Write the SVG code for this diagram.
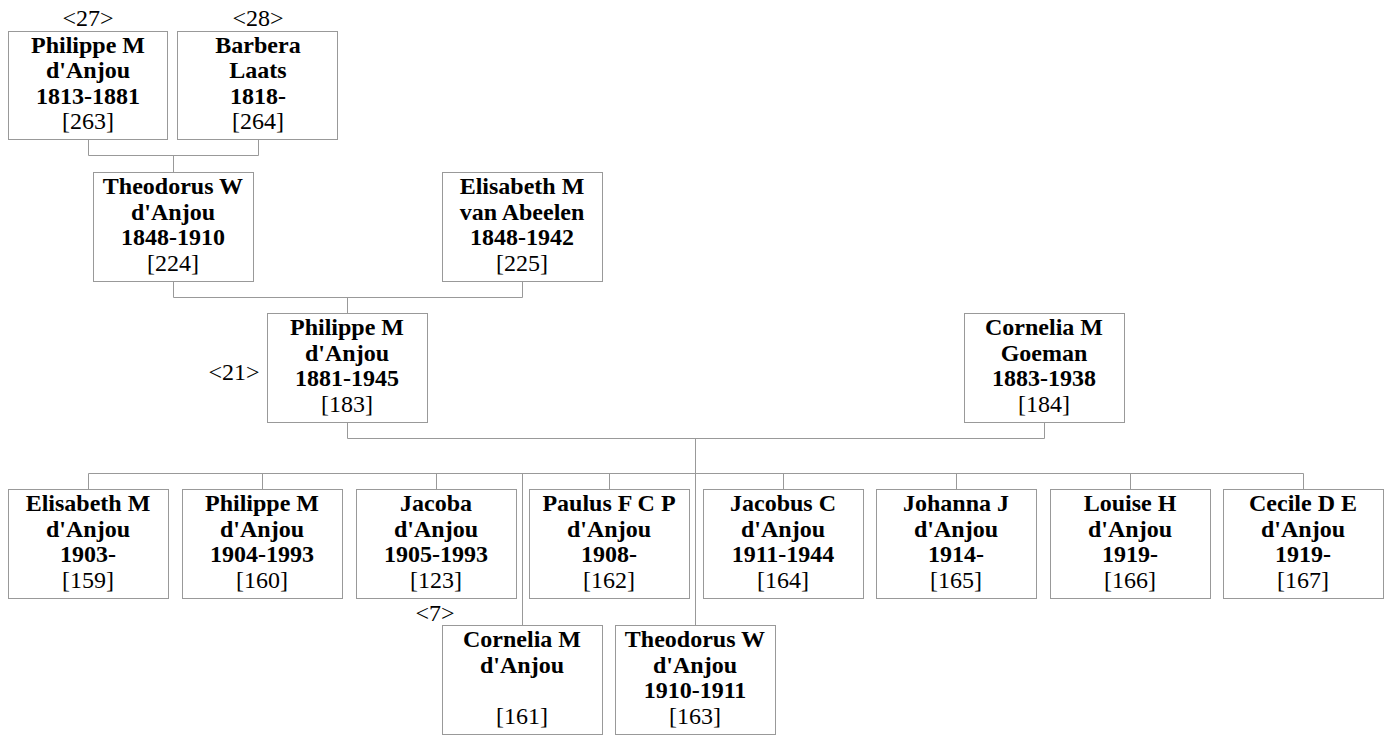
<svg xmlns="http://www.w3.org/2000/svg" width="1389" height="735" viewBox="0 0 1389 735">
<style>
rect.box{fill:#fff;stroke:#999;stroke-width:1}
.conn path{fill:none;stroke:#999;stroke-width:1}
text{font-family:"Liberation Serif","Times New Roman",serif;font-size:24px;fill:#000;text-anchor:middle}
.b{font-weight:bold}
</style>
<rect width="1389" height="735" fill="#fff"/>
<g class="conn">
<path d="M88.5 139.5V155.5H258.5V139.5M173.5 155.5V172"/>
<path d="M173.5 282V297.5H522.5V282M347.5 297.5V313"/>
<path d="M347.5 423V438.5H1044.5V423M695.5 438.5V625"/>
<path d="M88.5 489V473.5H1303.5V489M262.5 473.5V489M436.5 473.5V489M609.5 473.5V489M783.5 473.5V489M956.5 473.5V489M1130.5 473.5V489M522.5 473.5V625"/>
</g>
<text x="88" y="26">&lt;27&gt;</text>
<text x="258" y="26">&lt;28&gt;</text>
<text x="234" y="380">&lt;21&gt;</text>
<text x="435" y="621">&lt;7&gt;</text>
<g id="n263"><rect class="box" x="8.5" y="31.5" width="159" height="108"/><text class="b" x="88" y="52.5">Philippe M</text><text class="b" x="88" y="78">d'Anjou</text><text class="b" x="88" y="103.5">1813-1881</text><text x="88" y="129">[263]</text></g>
<g id="n264"><rect class="box" x="177.5" y="31.5" width="160" height="108"/><text class="b" x="258" y="52.5">Barbera</text><text class="b" x="258" y="78">Laats</text><text class="b" x="258" y="103.5">1818-</text><text x="258" y="129">[264]</text></g>
<g id="n224"><rect class="box" x="93.5" y="172.5" width="160" height="109"/><text class="b" x="173" y="194">Theodorus W</text><text class="b" x="173" y="219.5">d'Anjou</text><text class="b" x="173" y="245">1848-1910</text><text x="173" y="270.5">[224]</text></g>
<g id="n225"><rect class="box" x="442.5" y="172.5" width="160" height="109"/><text class="b" x="522" y="194">Elisabeth M</text><text class="b" x="522" y="219.5">van Abeelen</text><text class="b" x="522" y="245">1848-1942</text><text x="522" y="270.5">[225]</text></g>
<g id="n183"><rect class="box" x="267.5" y="313.5" width="160" height="109"/><text class="b" x="347" y="335">Philippe M</text><text class="b" x="347" y="360.5">d'Anjou</text><text class="b" x="347" y="386">1881-1945</text><text x="347" y="411.5">[183]</text></g>
<g id="n184"><rect class="box" x="964.5" y="313.5" width="160" height="109"/><text class="b" x="1044" y="335">Cornelia M</text><text class="b" x="1044" y="360.5">Goeman</text><text class="b" x="1044" y="386">1883-1938</text><text x="1044" y="411.5">[184]</text></g>
<g id="n159"><rect class="box" x="8.5" y="489.5" width="160" height="109"/><text class="b" x="88" y="511">Elisabeth M</text><text class="b" x="88" y="536.5">d'Anjou</text><text class="b" x="88" y="562">1903-</text><text x="88" y="587.5">[159]</text></g>
<g id="n160"><rect class="box" x="182.5" y="489.5" width="160" height="109"/><text class="b" x="262" y="511">Philippe M</text><text class="b" x="262" y="536.5">d'Anjou</text><text class="b" x="262" y="562">1904-1993</text><text x="262" y="587.5">[160]</text></g>
<g id="n123"><rect class="box" x="356.5" y="489.5" width="160" height="109"/><text class="b" x="436" y="511">Jacoba</text><text class="b" x="436" y="536.5">d'Anjou</text><text class="b" x="436" y="562">1905-1993</text><text x="436" y="587.5">[123]</text></g>
<g id="n162"><rect class="box" x="529.5" y="489.5" width="160" height="109"/><text class="b" x="609" y="511">Paulus F C P</text><text class="b" x="609" y="536.5">d'Anjou</text><text class="b" x="609" y="562">1908-</text><text x="609" y="587.5">[162]</text></g>
<g id="n164"><rect class="box" x="703.5" y="489.5" width="160" height="109"/><text class="b" x="783" y="511">Jacobus C</text><text class="b" x="783" y="536.5">d'Anjou</text><text class="b" x="783" y="562">1911-1944</text><text x="783" y="587.5">[164]</text></g>
<g id="n165"><rect class="box" x="876.5" y="489.5" width="160" height="109"/><text class="b" x="956" y="511">Johanna J</text><text class="b" x="956" y="536.5">d'Anjou</text><text class="b" x="956" y="562">1914-</text><text x="956" y="587.5">[165]</text></g>
<g id="n166"><rect class="box" x="1050.5" y="489.5" width="160" height="109"/><text class="b" x="1130" y="511">Louise H</text><text class="b" x="1130" y="536.5">d'Anjou</text><text class="b" x="1130" y="562">1919-</text><text x="1130" y="587.5">[166]</text></g>
<g id="n167"><rect class="box" x="1223.5" y="489.5" width="160" height="109"/><text class="b" x="1303" y="511">Cecile D E</text><text class="b" x="1303" y="536.5">d'Anjou</text><text class="b" x="1303" y="562">1919-</text><text x="1303" y="587.5">[167]</text></g>
<g id="n161"><rect class="box" x="442.5" y="625.5" width="160" height="109"/><text class="b" x="522" y="647">Cornelia M</text><text class="b" x="522" y="672.5">d'Anjou</text><text x="522" y="723.5">[161]</text></g>
<g id="n163"><rect class="box" x="615.5" y="625.5" width="160" height="109"/><text class="b" x="695" y="647">Theodorus W</text><text class="b" x="695" y="672.5">d'Anjou</text><text class="b" x="695" y="698">1910-1911</text><text x="695" y="723.5">[163]</text></g>
</svg>
